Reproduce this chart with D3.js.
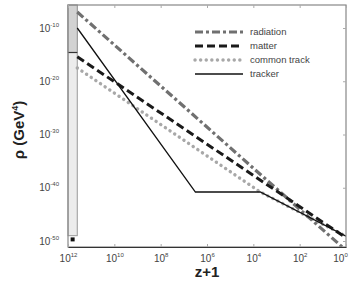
<!DOCTYPE html>
<html>
<head>
<meta charset="utf-8">
<script src="https://cdn.jsdelivr.net/npm/d3@7"></script>
<style>
  body { margin: 0; background: #fff; }
  svg { font-family: "Liberation Sans", Arial, Helvetica, sans-serif; }
</style>
</head>
<body>
<div id="chart"></div>
<script>
// tick exponents (z+1 and rho)
const xTickExp = [12, 10, 8, 6, 4, 2, 0];
const yTickExp = [-10, -20, -30, -40, -50];

// series, as log10(z+1) / log10(rho)
const radiationLogZ = [11.6, 0.17];
const radiationLogRho = [-7.0, -51.1];
const matterLogZ = [11.6, 0];
const matterLogRho = [-15.4, -49.4];
const commonLogZ = [11.6, 3.7, 0];
const commonLogRho = [-17.5, -40.8, -49.1];
const trackerLogZ = [11.6, 6.5, 3.7, 0];
const trackerLogRho = [-10.0, -40.8, -40.8, -49.1];

// initial condition band at the left
const bandLogZ = [12, 11.6];
const bandLogRho = [-5.7, -49.0];
const bandSplitLogRho = -14.6;
const startDot = { logZ: 11.8, logRho: -49.7 };

const legendNames = ['radiation', 'matter', 'common track', 'tracker'];

const width = 352, height = 282;
const plotLeft = 68, plotRight = 346, plotTop = 5, plotBottom = 247;

const svg = d3.select('#chart').append('svg')
  .attr('width', width)
  .attr('height', height);

const x = d3.scaleLog().domain([1e12, 1]).range([plotLeft, plotRight]);
const y = d3.scaleLog().domain([1e-50, 1e-10]).range([241, 28]);
const p = (e) => Math.pow(10, e);

svg.append('clipPath').attr('id', 'plot')
  .append('rect')
  .attr('x', plotLeft).attr('y', plotTop)
  .attr('width', plotRight - plotLeft).attr('height', plotBottom - plotTop);

// band
svg.append('rect')
  .attr('x', x(p(bandLogZ[0])))
  .attr('y', y(p(bandLogRho[0])))
  .attr('width', x(p(bandLogZ[1])) - x(p(bandLogZ[0])))
  .attr('height', y(p(bandLogRho[1])) - y(p(bandLogRho[0])))
  .attr('fill', '#ececec')
  .attr('stroke', '#999')
  .attr('stroke-width', 1);
svg.append('rect')
  .attr('x', x(p(bandLogZ[0])))
  .attr('y', y(p(bandLogRho[0])))
  .attr('width', x(p(bandLogZ[1])) - x(p(bandLogZ[0])))
  .attr('height', y(p(bandSplitLogRho)) - y(p(bandLogRho[0])))
  .attr('fill', '#d2d2d2')
  .attr('stroke', '#999')
  .attr('stroke-width', 1);
svg.append('line')
  .attr('x1', x(p(bandLogZ[0]))).attr('x2', x(p(bandLogZ[1])))
  .attr('y1', y(p(bandSplitLogRho))).attr('y2', y(p(bandSplitLogRho)))
  .attr('stroke', '#333').attr('stroke-width', 1.2);
svg.append('rect')
  .attr('x', x(p(startDot.logZ)) - 2)
  .attr('y', y(p(startDot.logRho)) - 2)
  .attr('width', 4).attr('height', 4)
  .attr('fill', '#111');

// lines
const styles = {
  'radiation': { color: '#707070', width: 3.2, dash: '8,3,3,3', cap: 'butt' },
  'matter': { color: '#1a1a1a', width: 3, dash: '8,4', cap: 'butt' },
  'common track': { color: '#a8a8a8', width: 3.4, dash: '0.1,5.5', cap: 'round' },
  'tracker': { color: '#111', width: 1.3, dash: null, cap: 'butt' },
};

const series = [
  { name: 'common track', z: commonLogZ, r: commonLogRho },
  { name: 'radiation', z: radiationLogZ, r: radiationLogRho },
  { name: 'matter', z: matterLogZ, r: matterLogRho },
  { name: 'tracker', z: trackerLogZ, r: trackerLogRho },
];

const line = d3.line()
  .x((d) => x(p(d[0])))
  .y((d) => y(p(d[1])));

const g = svg.append('g').attr('clip-path', 'url(#plot)');
series.forEach((s) => {
  const st = styles[s.name];
  g.append('path')
    .datum(d3.zip(s.z, s.r))
    .attr('d', line)
    .attr('fill', 'none')
    .attr('stroke', st.color)
    .attr('stroke-width', st.width)
    .attr('stroke-linecap', st.cap)
    .attr('stroke-dasharray', st.dash);
});

// frame
svg.append('rect')
  .attr('x', plotLeft).attr('y', plotTop)
  .attr('width', plotRight - plotLeft).attr('height', plotBottom - plotTop)
  .attr('fill', 'none')
  .attr('stroke', '#888')
  .attr('stroke-width', 1.2);

// axes
function supLabel(sel, exp) {
  sel.text('');
  sel.append('tspan').text('10');
  sel.append('tspan').attr('dy', -5).attr('font-size', 6).text(exp);
}

const xAxis = svg.append('g')
  .attr('transform', `translate(0,${plotBottom})`)
  .call(d3.axisBottom(x).tickValues(xTickExp.map(p)).tickSizeInner(-3).tickSizeOuter(0).tickPadding(6));
xAxis.select('.domain').attr('stroke', '#333').attr('stroke-width', 1.2);
xAxis.selectAll('.tick line').attr('stroke', '#aaa');
xAxis.selectAll('.tick text')
  .attr('font-size', 10).attr('fill', '#444').attr('dy', '0.9em')
  .attr('x', (d, i) => (i === xTickExp.length - 1 ? -6 : 0))
  .each(function (d, i) { supLabel(d3.select(this), xTickExp[i]); });

svg.append('g')
  .attr('transform', `translate(0,${plotTop})`)
  .call(d3.axisTop(x).tickValues(xTickExp.map(p)).tickSizeInner(-3).tickSizeOuter(0).tickFormat(''))
  .call((a) => a.select('.domain').remove())
  .selectAll('.tick line').attr('stroke', '#aaa');

const yAxis = svg.append('g')
  .attr('transform', `translate(${plotLeft},0)`)
  .call(d3.axisLeft(y).tickValues(yTickExp.map(p)).tickSizeInner(0).tickSizeOuter(0).tickPadding(9));
yAxis.select('.domain').remove();
yAxis.selectAll('.tick text')
  .attr('font-size', 10).attr('fill', '#444')
  .each(function (d, i) { supLabel(d3.select(this), '-' + Math.abs(yTickExp[i])); });

svg.append('g')
  .attr('transform', `translate(${plotRight},0)`)
  .call(d3.axisRight(y).tickValues(yTickExp.map(p)).tickSizeInner(-3).tickSizeOuter(0).tickFormat(''))
  .call((a) => a.select('.domain').remove())
  .selectAll('.tick line').attr('stroke', '#aaa');

// axis titles
svg.append('text')
  .attr('x', 207).attr('y', 277)
  .attr('text-anchor', 'middle')
  .attr('font-size', 15).attr('font-weight', 'bold').attr('fill', '#222')
  .text('z+1');

const yt = svg.append('text')
  .attr('transform', 'translate(24,130) rotate(-90)')
  .attr('text-anchor', 'middle')
  .attr('font-size', 15).attr('font-weight', 'bold').attr('fill', '#222');
yt.append('tspan').text('ρ (GeV');
yt.append('tspan').attr('dy', -6).attr('font-size', 9).text('4');
yt.append('tspan').attr('dy', 6).text(')');

// legend
const legend = svg.append('g').attr('transform', 'translate(195,32)');
legendNames.forEach((name, i) => {
  const st = styles[name];
  const row = legend.append('g').attr('transform', `translate(0,${i * 14})`);
  row.append('line')
    .attr('x1', 0).attr('x2', 48)
    .attr('stroke', st.color)
    .attr('stroke-width', st.width)
    .attr('stroke-linecap', st.cap)
    .attr('stroke-dasharray', st.dash);
  row.append('text')
    .attr('x', 55).attr('y', 3)
    .attr('font-size', 9.5).attr('fill', '#444')
    .text(name);
});
</script>
</body>
</html>
